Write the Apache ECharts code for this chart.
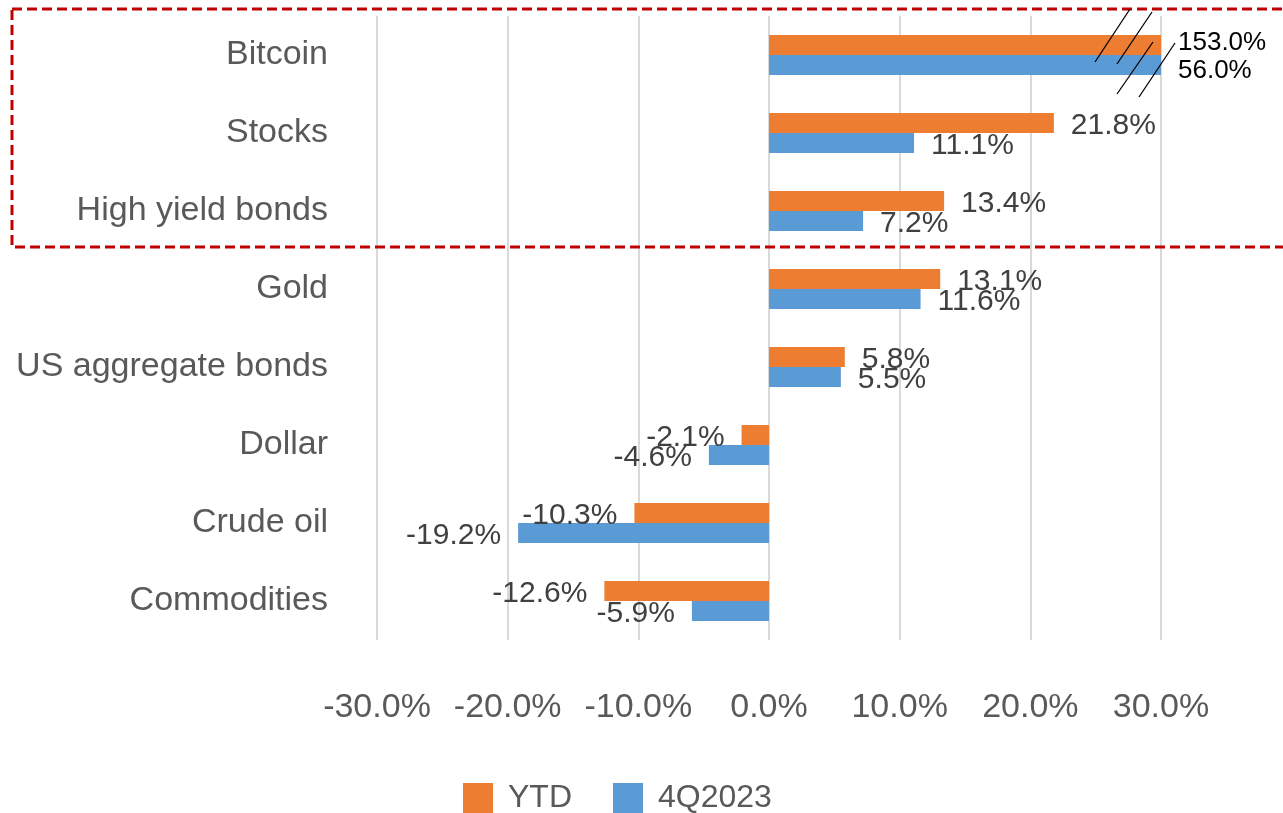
<!DOCTYPE html>
<html>
<head>
<meta charset="utf-8">
<script src="https://cdn.jsdelivr.net/npm/echarts@6/dist/echarts.min.js"></script>
<style>
  html, body { margin: 0; padding: 0; background: #fff; }
  #main { width: 1283px; height: 813px; }
</style>
</head>
<body>
<div id="main"></div>
<script>
// data
var categories = ['Bitcoin', 'Stocks', 'High yield bonds', 'Gold', 'US aggregate bonds', 'Dollar', 'Crude oil', 'Commodities'];
var ytd = [153.0, 21.8, 13.4, 13.1, 5.8, -2.1, -10.3, -12.6];
var q4 = [56.0, 11.1, 7.2, 11.6, 5.5, -4.6, -19.2, -5.9];
var seriesNames = ['YTD', '4Q2023'];
var xTicks = [-30, -20, -10, 0, 10, 20, 30];

var xMin = xTicks[0], xMax = xTicks[xTicks.length - 1];
var font = '"Liberation Sans", Arial, sans-serif';

// bars over the axis max get cut at the max, label keeps the real value
function toItems(arr, dy) {
  return arr.map(function (v) {
    var cut = v > xMax;
    return {
      value: cut ? xMax : v,
      label: cut
        ? { position: 'right', color: '#000', fontSize: 26, offset: [0, dy] }
        : { position: v < 0 ? 'left' : 'right' }
    };
  });
}

function makeSeries(name, arr, color, dy) {
  return {
    name: name,
    type: 'bar',
    data: toItems(arr, dy),
    barWidth: 20,
    barGap: '0%',
    itemStyle: { color: color },
    label: {
      show: true,
      distance: 17,
      offset: [0, 3],
      fontFamily: font,
      fontSize: 30,
      color: '#404040',
      formatter: function (p) { return arr[p.dataIndex].toFixed(1) + '%'; }
    }
  };
}

var myChart = echarts.init(document.getElementById('main'));

var option = {
  animation: false,
  textStyle: { fontFamily: font },
  grid: { left: 377, right: 122, top: 16, bottom: 173, containLabel: false },
  legend: {
    data: seriesNames,
    left: 458,
    top: 777,
    icon: 'rect',
    itemWidth: 30,
    itemHeight: 30,
    itemGap: 41,
    textStyle: { fontFamily: font, fontSize: 32, color: '#595959', padding: [0, 0, 0, 10] }
  },
  xAxis: {
    type: 'value',
    min: xMin,
    max: xMax,
    interval: 10,
    axisLine: { show: false },
    axisTick: { show: false },
    splitLine: { show: true, lineStyle: { color: '#d9d9d9', width: 2 } },
    axisLabel: {
      fontFamily: font,
      fontSize: 34,
      color: '#595959',
      margin: 51,
      formatter: function (v) { return v.toFixed(1) + '%'; }
    }
  },
  yAxis: {
    type: 'category',
    data: categories,
    inverse: true,
    axisLine: { show: false },
    axisTick: { show: false },
    axisLabel: { fontFamily: font, fontSize: 34, color: '#595959', margin: 49 }
  },
  series: [
    makeSeries(seriesNames[0], ytd, '#ED7D31', -2),
    makeSeries(seriesNames[1], q4, '#5B9BD5', 6)
  ],
  graphic: [
    // red dashed highlight box
    {
      type: 'rect', z: 100,
      shape: { x: 12, y: 9, width: 1290, height: 238 },
      style: { fill: 'none', stroke: '#C00000', lineWidth: 3, lineDash: [10, 5] }
    },
    // axis break marks on the Bitcoin bars
    { type: 'line', z: 100, shape: { x1: 1095, y1: 62, x2: 1130, y2: 9 }, style: { stroke: '#000', lineWidth: 1.3 } },
    { type: 'line', z: 100, shape: { x1: 1117, y1: 64, x2: 1152, y2: 12 }, style: { stroke: '#000', lineWidth: 1.3 } },
    { type: 'line', z: 100, shape: { x1: 1117, y1: 94, x2: 1153, y2: 42 }, style: { stroke: '#000', lineWidth: 1.3 } },
    { type: 'line', z: 100, shape: { x1: 1139, y1: 97, x2: 1175, y2: 43 }, style: { stroke: '#000', lineWidth: 1.3 } }
  ]
};

myChart.setOption(option);
window.onresize = myChart.resize;
</script>
</body>
</html>
